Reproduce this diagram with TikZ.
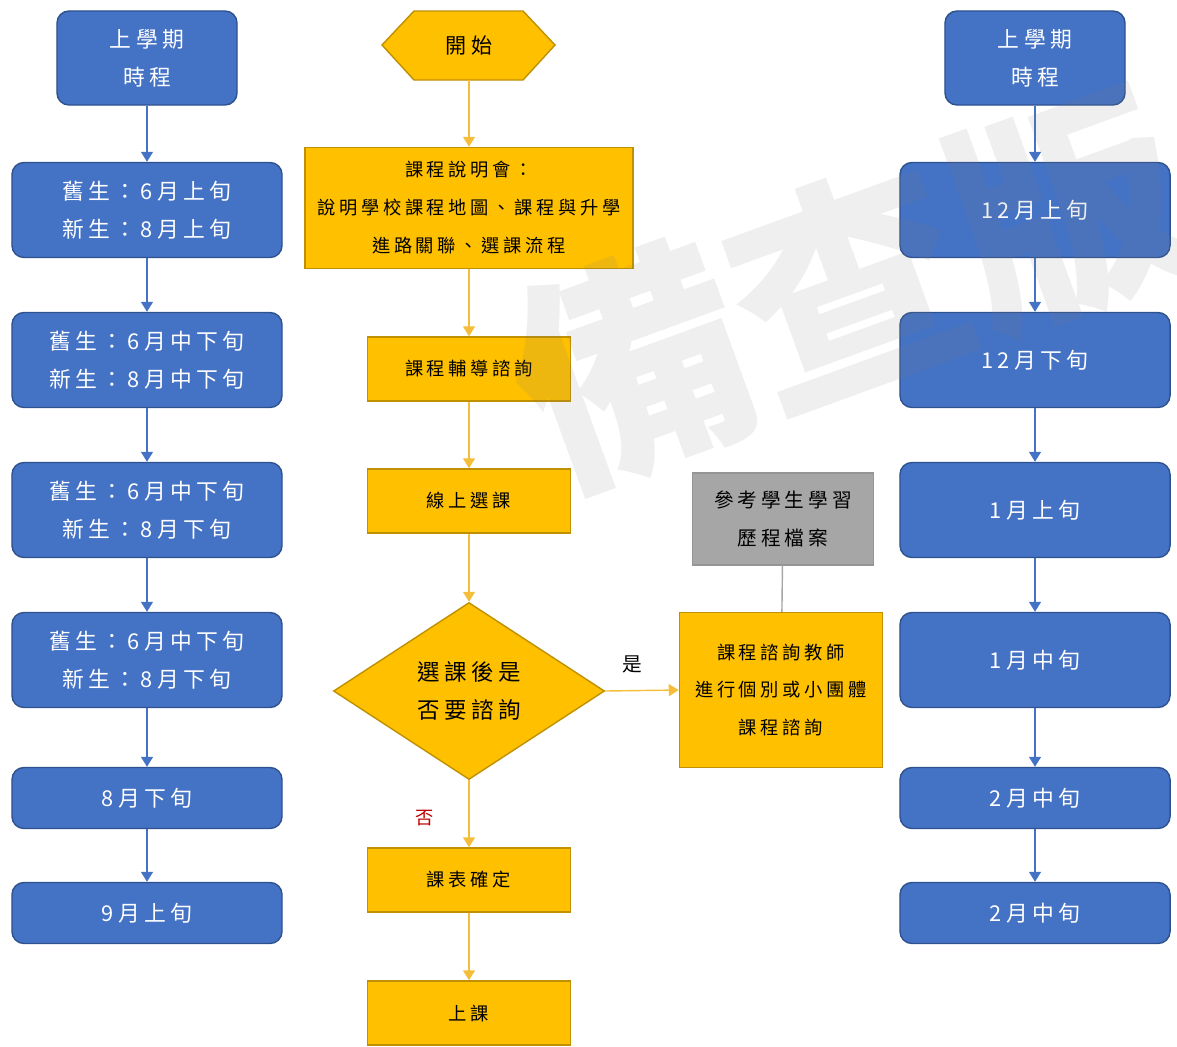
\documentclass[tikz,border=0pt]{standalone}
\usepackage{fontspec}
\setmainfont{Noto Sans CJK TC}[LetterSpace=20]
\newfontfamily\markfont{Noto Sans CJK TC}
\usetikzlibrary{shapes.geometric,arrows.meta}

\definecolor{boxblue}{HTML}{4472C4}
\definecolor{lineblue}{HTML}{2F528F}
\definecolor{boxgold}{HTML}{FFC000}
\definecolor{linegold}{HTML}{BF9000}
\definecolor{arrgold}{HTML}{F4BE3A}
\definecolor{boxgray}{HTML}{A6A6A6}
\definecolor{nored}{HTML}{C00000}
\definecolor{markgray}{HTML}{808080}

\begin{document}
\begin{tikzpicture}[x=0.025cm, y=-0.025cm,
        blueb/.style={draw=lineblue, fill=boxblue, line width=1pt, rounded corners=0.3cm,
            text=white, align=center, inner sep=0pt,
            font=\fontsize{15.5}{27}\selectfont},
        bluebig/.style={blueb, minimum width=6.75cm, minimum height=2.375cm},
        bluetop/.style={blueb, minimum width=4.5cm, minimum height=2.35cm},
        bluesmall/.style={blueb, minimum width=6.75cm, minimum height=1.525cm},
        goldb/.style={draw=linegold, fill=boxgold, line width=1pt, text=black,
            align=center, inner sep=0pt, font=\fontsize{13}{27}\selectfont},
        goldsmall/.style={goldb, minimum width=5.075cm, minimum height=1.6cm},
        bluearr/.style={-{Triangle[width=0.3cm,length=0.25cm]}, boxblue, line width=1pt},
        goldarr/.style={-{Triangle[width=0.3cm,length=0.25cm]}, arrgold, line width=1pt}]

        \useasboundingbox (0,0) rectangle (1177,1046);

        % left column
        \node[bluetop] (l0) at (147,58) {上學期\\時程};
        \node[bluebig] (l1) at (147,210) {舊生：6月上旬\\新生：8月上旬};
        \node[bluebig] (l2) at (147,360) {舊生：6月中下旬\\新生：8月中下旬};
        \node[bluebig] (l3) at (147,510) {舊生：6月中下旬\\新生：8月下旬};
        \node[bluebig] (l4) at (147,660) {舊生：6月中下旬\\新生：8月下旬};
        \node[bluesmall] (l5) at (147,798) {8月下旬};
        \node[bluesmall] (l6) at (147,913) {9月上旬};
        \foreach \a/\b in {l0/l1,l1/l2,l2/l3,l3/l4,l4/l5,l5/l6}
            \draw[bluearr] (\a) -- (\b);

        % right column
        \node[bluetop] (r0) at (1035,58) {上學期\\時程};
        \node[bluebig] (r1) at (1035,210) {12月上旬};
        \node[bluebig] (r2) at (1035,360) {12月下旬};
        \node[bluebig] (r3) at (1035,510) {1月上旬};
        \node[bluebig] (r4) at (1035,660) {1月中旬};
        \node[bluesmall] (r5) at (1035,798) {2月中旬};
        \node[bluesmall] (r6) at (1035,913) {2月中旬};
        \foreach \a/\b in {r0/r1,r1/r2,r2/r3,r3/r4,r4/r5,r5/r6}
            \draw[bluearr] (\a) -- (\b);

        % middle column
        \draw[draw=linegold, fill=boxgold, line width=1pt]
            (382,45) -- (414,11) -- (523,11) -- (555,45) -- (523,80) -- (414,80) -- cycle;
        \node[minimum width=4.325cm, minimum height=1.725cm, inner sep=0pt,
            font=\fontsize{15}{27}\selectfont] (start) at (469,45) {開始};
        \node[goldb, minimum width=8.2cm, minimum height=3.025cm] (talk) at (469,208)
            {課程說明會：\\說明學校課程地圖、課程與升學\\進路關聯、選課流程};
        \node[goldsmall] (guide) at (469,369) {課程輔導諮詢};
        \node[goldsmall] (online) at (469,501) {線上選課};
        \node[goldb, diamond, aspect=1.5, minimum width=6.775cm, minimum height=4.425cm,
            font=\fontsize{16}{27}\selectfont] (ask) at (469,691) {選課後是\\否要諮詢};
        \node[goldsmall] (fix) at (469,880) {課表確定};
        \node[goldsmall] (cls) at (469,1013) {上課};

        \node[goldb, minimum width=5.075cm, minimum height=3.875cm] (tutor) at (781,690)
            {課程諮詢教師\\進行個別或小團體\\課程諮詢};
        \node[draw=boxgray!90!black, fill=boxgray, line width=1pt, align=center,
            inner sep=0pt, minimum width=4.525cm, minimum height=2.3cm,
            font=\fontsize{14}{27}\selectfont] (portf) at (783,519)
            {參考學生學習\\歷程檔案};

        \draw[goldarr] (start) -- (talk);
        \draw[goldarr] (talk) -- (guide);
        \draw[goldarr] (guide) -- (online);
        \draw[goldarr] (online) -- (ask);
        \draw[goldarr] (ask) -- (fix);
        \draw[goldarr] (fix) -- (cls);
        \draw[goldarr] (ask.east) -- (tutor.west);
        \draw[boxgray, line width=1pt] (portf) -- (tutor);

        \node[font=\fontsize{14}{14}\selectfont] (yes) at (632,664) {是};
        \node[text=nored, font=\fontsize{13}{13}\selectfont] (no) at (425,818) {否};

        % watermark
        \begin{scope}
            \clip (0,0) rectangle (1177,1046);
            \node[rotate=20, text=markgray, opacity=0.13, inner sep=0pt,
                font=\markfont\bfseries\fontsize{165}{165}\selectfont] (mark) at (850,288) {備查版};
        \end{scope}

    \end{tikzpicture}
\end{document}
